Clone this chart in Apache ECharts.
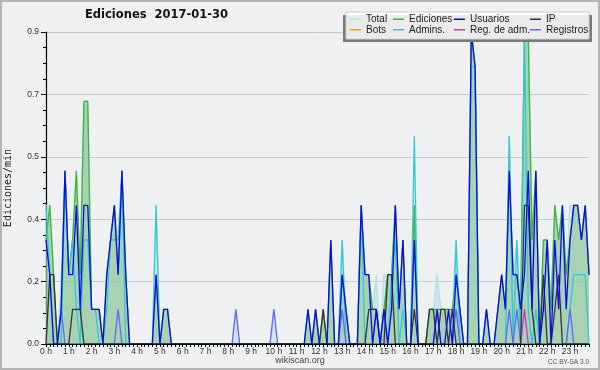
<!DOCTYPE html>
<html>
<head>
<meta charset="utf-8">
<script src="https://cdn.jsdelivr.net/npm/echarts@6/dist/echarts.min.js"></script>
<style>
  html, body { margin: 0; padding: 0; background: #eff0f2; }
  #chart { width: 600px; height: 370px; }
</style>
</head>
<body>
<div id="chart"></div>
<script>
// etiquetas de las horas (una cada 6 intervalos de 10 min)
const hourLabels = ['0 h', '1 h', '2 h', '3 h', '4 h', '5 h', '6 h', '7 h', '8 h', '9 h', '10 h', '11 h',
  '12 h', '13 h', '14 h', '15 h', '16 h', '17 h', '18 h', '19 h', '20 h', '21 h', '22 h', '23 h'];

// ediciones/min por tramo de 10 minutos (144 tramos)
const total = [
  0.4, 0.4, 0.2, 0, 0.2, 0.5, 0.2, 0.3, 0.5, 0.2, 0.7, 0.7,
  0.1, 0.1, 0.1, 0, 0.2, 0.3, 0.4, 0.3, 0.5, 0.2, 0, 0,
  0, 0, 0, 0, 0, 0.4, 0, 0.1, 0.1, 0, 0, 0,
  0, 0, 0, 0, 0, 0, 0, 0, 0, 0, 0, 0,
  0, 0, 0.1, 0, 0, 0, 0, 0, 0, 0, 0, 0,
  0.1, 0, 0, 0, 0, 0, 0, 0, 0, 0.1, 0, 0.1,
  0, 0.1, 0, 0.3, 0, 0, 0.3, 0.1, 0, 0, 0, 0.4,
  0.2, 0.2, 0.1, 0.2, 0, 0.2, 0.2, 0.2, 0.4, 0.1, 0.3, 0,
  0, 0.4, 0, 0, 0, 0.1, 0.1, 0.2, 0.1, 0.1, 0.1, 0.1,
  0.3, 0.1, 0, 0, 0.9, 0.8, 0, 0, 0.1, 0, 0, 0.1,
  0.2, 0.1, 0.6, 0.2, 0.3, 0.1, 0.9, 0.9, 0.3, 0.5, 0, 0.3,
  0.3, 0.1, 0.4, 0.3, 0.4, 0.2, 0.4, 0.4, 0.4, 0.3, 0.4, 0.2
];
const ediciones = [
  0.3, 0.4, 0.2, 0, 0.1, 0.5, 0.2, 0.3, 0.5, 0.2, 0.7, 0.7,
  0.1, 0.1, 0.1, 0, 0.2, 0.3, 0.4, 0.2, 0.5, 0.2, 0, 0,
  0, 0, 0, 0, 0, 0.2, 0, 0.1, 0.1, 0, 0, 0,
  0, 0, 0, 0, 0, 0, 0, 0, 0, 0, 0, 0,
  0, 0, 0, 0, 0, 0, 0, 0, 0, 0, 0, 0,
  0, 0, 0, 0, 0, 0, 0, 0, 0, 0.1, 0, 0.1,
  0, 0.1, 0, 0.3, 0, 0, 0.2, 0.1, 0, 0, 0, 0.4,
  0.2, 0.2, 0.1, 0.1, 0, 0.1, 0.2, 0.2, 0.4, 0.1, 0.3, 0,
  0, 0.4, 0, 0, 0, 0.1, 0.1, 0.1, 0.1, 0.1, 0.1, 0.1,
  0.2, 0.1, 0, 0, 0.9, 0.8, 0, 0, 0.1, 0, 0, 0.1,
  0.2, 0.1, 0.5, 0.2, 0.2, 0.1, 0.9, 0.9, 0.3, 0.5, 0, 0.3,
  0.3, 0.1, 0.4, 0.3, 0.4, 0.2, 0.3, 0.4, 0.4, 0.3, 0.4, 0.2
];
const usuarios = [
  0.3, 0.2, 0, 0, 0.1, 0.5, 0.2, 0.2, 0.4, 0.1, 0.4, 0.4,
  0.1, 0.1, 0.1, 0, 0.2, 0.3, 0.4, 0.2, 0.5, 0.2, 0, 0,
  0, 0, 0, 0, 0, 0.2, 0, 0.1, 0.1, 0, 0, 0,
  0, 0, 0, 0, 0, 0, 0, 0, 0, 0, 0, 0,
  0, 0, 0, 0, 0, 0, 0, 0, 0, 0, 0, 0,
  0, 0, 0, 0, 0, 0, 0, 0, 0, 0.1, 0, 0.1,
  0, 0, 0, 0.3, 0, 0, 0.2, 0.1, 0, 0, 0, 0.4,
  0.2, 0.2, 0, 0.1, 0, 0.1, 0, 0.1, 0.4, 0.1, 0.3, 0,
  0, 0.3, 0, 0, 0, 0, 0, 0.1, 0, 0, 0.1, 0,
  0.2, 0.1, 0, 0, 0.9, 0.8, 0, 0, 0.1, 0, 0, 0.1,
  0.2, 0.1, 0.5, 0.2, 0.2, 0.1, 0.2, 0.5, 0.1, 0.5, 0, 0.1,
  0.3, 0, 0.3, 0.1, 0.4, 0.1, 0.3, 0.4, 0.4, 0.3, 0.4, 0.2
];
const ip = [
  0, 0.2, 0.2, 0, 0, 0, 0, 0.1, 0.1, 0.1, 0, 0,
  0, 0, 0, 0, 0, 0, 0, 0, 0, 0, 0, 0,
  0, 0, 0, 0, 0, 0, 0, 0, 0, 0, 0, 0,
  0, 0, 0, 0, 0, 0, 0, 0, 0, 0, 0, 0,
  0, 0, 0, 0, 0, 0, 0, 0, 0, 0, 0, 0,
  0, 0, 0, 0, 0, 0, 0, 0, 0, 0, 0, 0,
  0, 0.1, 0, 0, 0, 0, 0, 0, 0, 0, 0, 0,
  0, 0.1, 0.1, 0.1, 0, 0, 0.2, 0.2, 0, 0, 0, 0,
  0, 0.1, 0, 0, 0, 0.1, 0.1, 0, 0.1, 0.1, 0, 0.1,
  0, 0, 0, 0, 0, 0, 0, 0, 0, 0, 0, 0,
  0, 0, 0, 0, 0, 0, 0.4, 0.4, 0.1, 0, 0, 0.2,
  0, 0, 0.1, 0.2, 0, 0, 0, 0, 0, 0, 0, 0
];
const bots = [];
const admins = [
  0.4, 0.2, 0, 0, 0, 0.5, 0.2, 0.3, 0.1, 0, 0.3, 0.3,
  0.1, 0.1, 0, 0, 0.1, 0.3, 0.3, 0.3, 0.5, 0, 0, 0,
  0, 0, 0, 0, 0, 0.4, 0, 0, 0, 0, 0, 0,
  0, 0, 0, 0, 0, 0, 0, 0, 0, 0, 0, 0,
  0, 0, 0, 0, 0, 0, 0, 0, 0, 0, 0, 0,
  0, 0, 0, 0, 0, 0, 0, 0, 0, 0, 0, 0,
  0, 0, 0, 0, 0, 0, 0.3, 0, 0, 0, 0, 0.4,
  0, 0, 0, 0, 0, 0, 0, 0.2, 0.3, 0, 0.1, 0,
  0, 0.6, 0, 0, 0, 0, 0, 0, 0, 0, 0, 0,
  0.3, 0, 0, 0, 0.8, 0.8, 0, 0, 0, 0, 0, 0,
  0, 0, 0.6, 0, 0.3, 0, 0.9, 0.1, 0, 0.1, 0, 0,
  0, 0, 0, 0, 0, 0, 0.1, 0.2, 0.2, 0.2, 0.2, 0
];
const regAdm = [
  0, 0, 0, 0, 0, 0, 0, 0, 0, 0, 0, 0,
  0, 0, 0, 0, 0, 0, 0, 0, 0, 0, 0, 0,
  0, 0, 0, 0, 0, 0, 0, 0, 0, 0, 0, 0,
  0, 0, 0, 0, 0, 0, 0, 0, 0, 0, 0, 0,
  0, 0, 0, 0, 0, 0, 0, 0, 0, 0, 0, 0,
  0, 0, 0, 0, 0, 0, 0, 0, 0, 0, 0, 0,
  0, 0, 0, 0, 0, 0, 0, 0, 0, 0, 0, 0,
  0, 0, 0, 0, 0, 0, 0, 0, 0, 0, 0, 0,
  0, 0, 0, 0, 0, 0, 0, 0, 0, 0, 0, 0,
  0, 0, 0, 0, 0, 0, 0, 0, 0, 0, 0, 0,
  0, 0, 0, 0, 0, 0, 0.1, 0, 0, 0, 0, 0,
  0, 0, 0, 0, 0, 0, 0, 0, 0, 0, 0, 0
];
const registros = [
  0, 0, 0, 0, 0.1, 0, 0, 0, 0, 0, 0, 0,
  0, 0, 0, 0, 0, 0, 0, 0.1, 0, 0, 0, 0,
  0, 0, 0, 0, 0, 0, 0, 0, 0, 0, 0, 0,
  0, 0, 0, 0, 0, 0, 0, 0, 0, 0, 0, 0,
  0, 0, 0.1, 0, 0, 0, 0, 0, 0, 0, 0, 0,
  0.1, 0, 0, 0, 0, 0, 0, 0, 0, 0, 0, 0,
  0, 0, 0, 0, 0, 0, 0.1, 0, 0, 0, 0, 0,
  0, 0, 0, 0.1, 0, 0.1, 0, 0, 0, 0, 0, 0,
  0, 0, 0, 0, 0, 0, 0, 0.1, 0, 0, 0, 0,
  0.1, 0, 0, 0, 0, 0, 0, 0, 0, 0, 0, 0,
  0, 0, 0.1, 0, 0.1, 0, 0, 0, 0, 0, 0, 0,
  0, 0, 0, 0, 0, 0, 0.1, 0, 0, 0, 0, 0
];

// categorias: un punto cada 10 minutos
const slots = [];
hourLabels.forEach((h, hi) => {
  for (let m = 0; m < 6; m++) slots.push(hi + ':' + m + '0');
});

const FONT = 'Liberation Sans';

function line(name, data, color, z) {
  return {
    name,
    type: 'line',
    data,
    z,
    color,
    symbol: 'none',
    lineStyle: { width: 1.3, color },
    emphasis: { disabled: true },
  };
}

function legendCol(names, left) {
  return {
    data: names,
    orient: 'vertical',
    left,
    top: 14,
    z: 60,
    padding: 0,
    itemGap: 0,
    itemWidth: 11,
    itemHeight: 1.5,
    icon: 'rect',
    selectedMode: false,
    textStyle: { fontFamily: FONT, fontSize: 10, lineHeight: 10.5, color: '#222' },
  };
}

const chart = echarts.init(document.getElementById('chart'));
chart.setOption({
  animation: false,
  backgroundColor: '#eff0f2',
  title: {
    text: 'Ediciones  2017-01-30',
    left: 85,
    top: 9,
    padding: 0,
    textStyle: { fontFamily: 'DejaVu Sans', fontWeight: 'bold', fontSize: 11.5, color: '#111' },
  },
  grid: { left: 46, right: 11, top: 32, bottom: 26, containLabel: false, outerBoundsMode: 'none' },
  legend: [
    legendCol(['Total', 'Bots'], 350),
    legendCol(['Ediciones', 'Admins.'], 393),
    legendCol(['Usuarios', 'Reg. de adm.'], 454),
    legendCol(['IP', 'Registros'], 530),
  ],
  xAxis: {
    type: 'category',
    data: slots,
    boundaryGap: false,
    z: 10,
    axisLine: { lineStyle: { color: '#000', width: 1.2 } },
    axisTick: { interval: 0, length: 3, lineStyle: { color: '#000' } },
    axisLabel: {
      interval: 5,
      margin: 3,
      fontFamily: FONT,
      fontSize: 8.5,
      color: '#333',
      formatter: (v, idx) => hourLabels[idx / 6],
    },
  },
  yAxis: {
    type: 'value',
    min: 0,
    max: 0.9,
    interval: 0.18,
    name: 'Ediciones/min',
    nameLocation: 'middle',
    nameGap: 33,
    nameTextStyle: { fontFamily: 'DejaVu Sans Mono', fontSize: 10, color: '#222' },
    axisLine: { show: true, lineStyle: { color: '#000', width: 1.2 } },
    axisTick: { show: true, length: 5, lineStyle: { color: '#000' } },
    minorTick: { show: true, splitNumber: 4, length: 3, lineStyle: { color: '#000' } },
    axisLabel: {
      margin: 7,
      fontFamily: FONT,
      fontSize: 8.5,
      color: '#333',
      formatter: (v) => v.toFixed(1),
    },
    splitLine: { lineStyle: { color: '#cbcbcb', width: 1 } },
  },
  series: [
    { ...line('Total', total, '#b2e2ea', 1), areaStyle: { color: 'rgba(140,200,225,0.45)' } },
    { ...line('Ediciones', ediciones, '#3cb43c', 2), areaStyle: { color: 'rgba(140,200,140,0.85)' } },
    line('Bots', bots, '#ff9900', 3),
    line('Admins.', admins, '#33c8d2', 4),
    line('Reg. de adm.', regAdm, '#cc33cc', 5),
    line('Registros', registros, '#6666ff', 6),
    line('IP', ip, '#333333', 7),
    line('Usuarios', usuarios, '#0a0ae6', 8),
  ],
  graphic: [
    {
      type: 'rect',
      z: 50,
      shape: { x: 343, y: 15, width: 249, height: 27 },
      style: { fill: '#7a7a7a' },
    },
    {
      type: 'rect',
      z: 51,
      shape: { x: 346, y: 12, width: 243, height: 27 },
      style: { fill: 'rgba(255,255,255,0.85)', stroke: '#d0d0d0', lineWidth: 1 },
    },
    {
      type: 'text',
      z: 60,
      x: 300,
      y: 361,
      style: { text: 'wikiscan.org', fontFamily: FONT, fontSize: 9, fill: '#444', align: 'center', verticalAlign: 'middle' },
    },
    {
      type: 'text',
      z: 60,
      x: 589,
      y: 362,
      style: { text: 'CC BY-SA 3.0', fontFamily: FONT, fontSize: 6.5, fill: '#555', align: 'right', verticalAlign: 'middle' },
    },
    {
      type: 'rect',
      z: 70,
      shape: { x: 1, y: 1, width: 598, height: 368 },
      style: { fill: 'none', stroke: '#b4b4b4', lineWidth: 2 },
    },
  ],
});
</script>
</body>
</html>
